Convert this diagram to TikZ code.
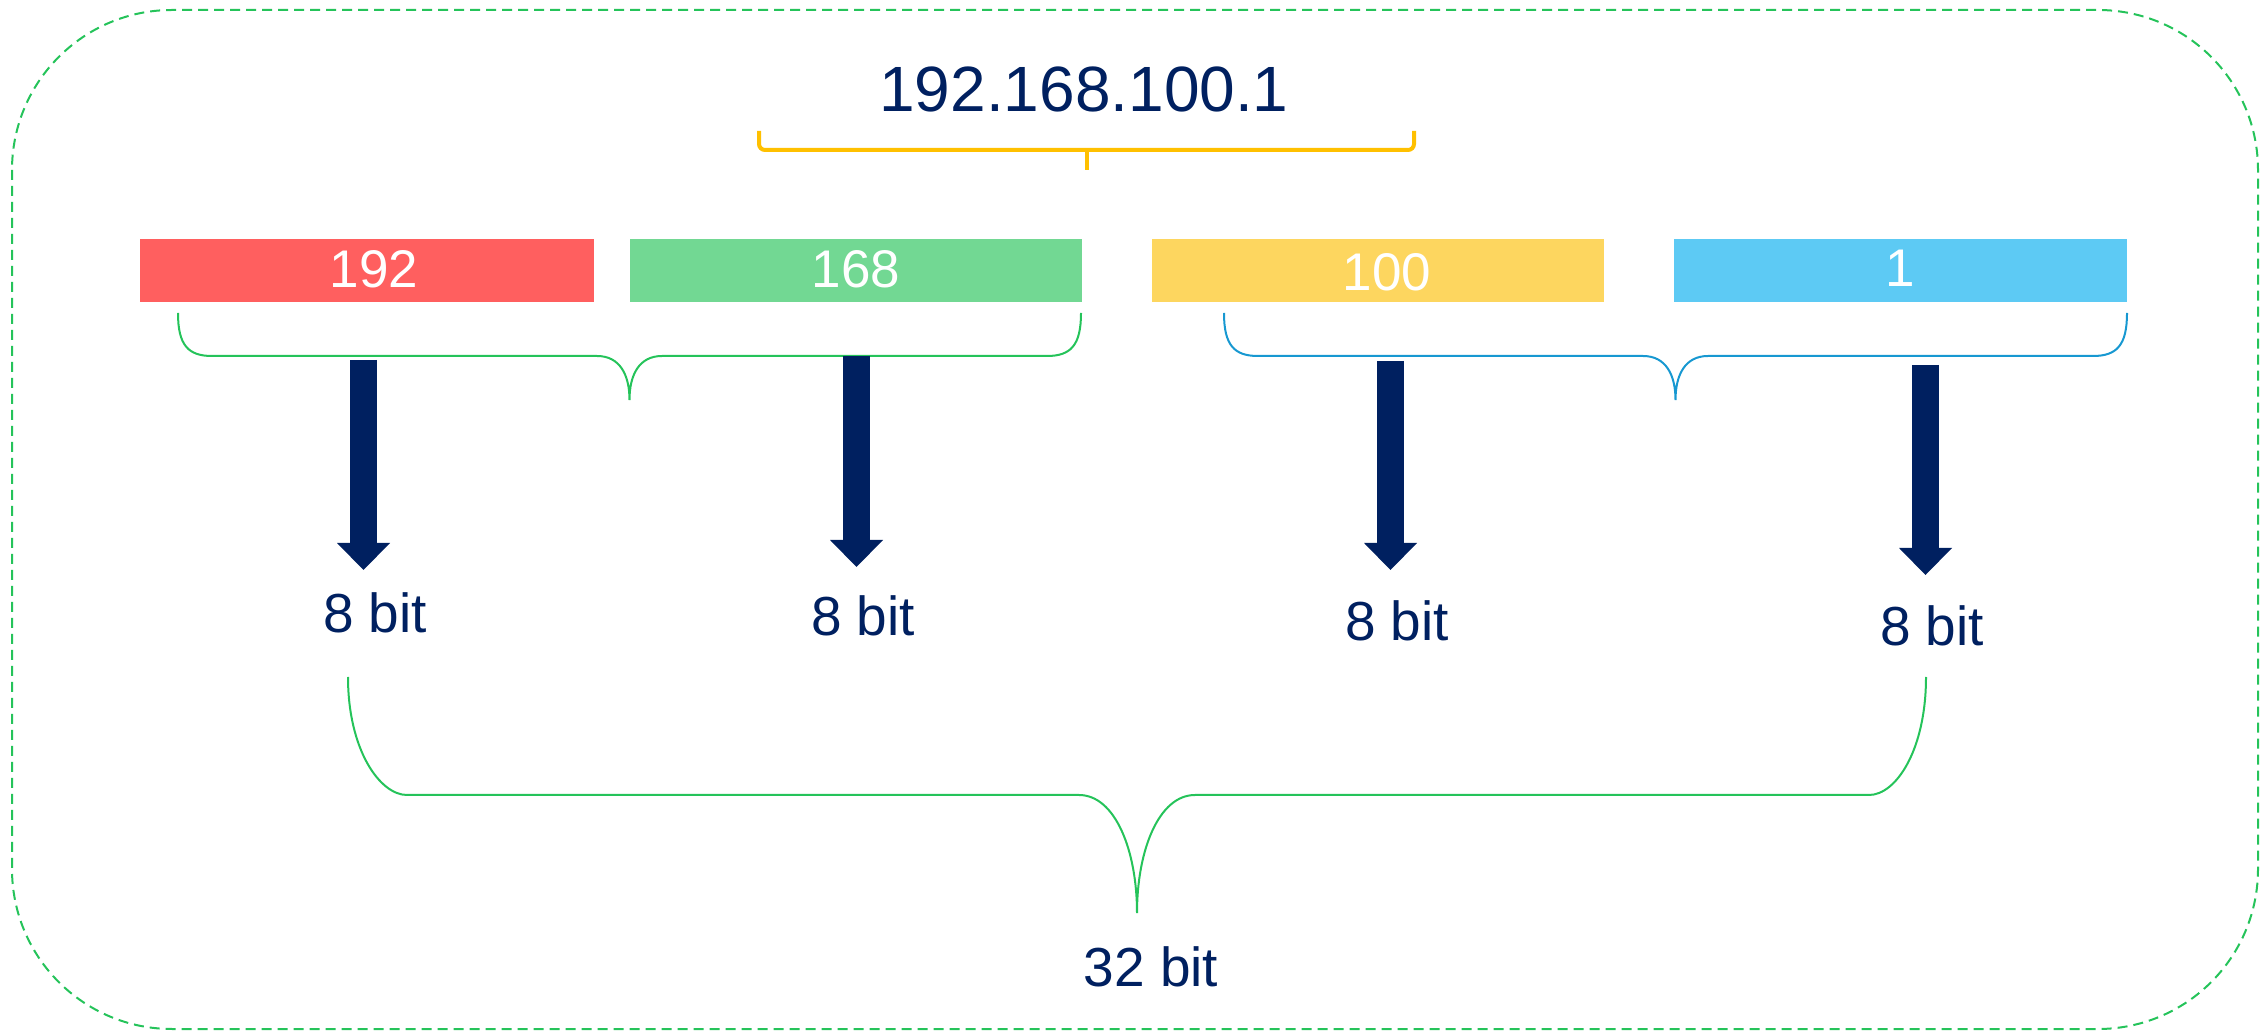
\documentclass[tikz,border=0pt]{standalone}
\usepackage{fontspec}
\setmainfont{Liberation Sans}
\usetikzlibrary{arrows.meta}
\definecolor{navy}{HTML}{002060}
\definecolor{boxred}{HTML}{FF5F5F}
\definecolor{boxgreen}{HTML}{72D893}
\definecolor{boxyellow}{HTML}{FDD65F}
\definecolor{boxblue}{HTML}{5DCAF4}
\definecolor{linegreen}{HTML}{25C35A}
\definecolor{lineblue}{HTML}{1798D1}
\definecolor{braceyellow}{HTML}{FFC000}
\begin{document}
\begin{tikzpicture}[x=0.5pt,y=-0.5pt,
  frame/.style={draw=linegreen, line width=1pt, dash pattern=on 5pt off 3pt, rounded corners=80pt},
  octet/.style={rectangle, inner sep=0pt, minimum height=31.5pt},
  octettext/.style={text=white, font=\fontsize{26.5}{30}\selectfont, inner sep=0pt},
  bitlabel/.style={text=navy, font=\fontsize{27.5}{31}\selectfont, inner sep=0pt},
  brace/.style={line width=1pt},
  bigarrow/.style={draw=navy, line width=13.5pt, -{Triangle[width=26.5pt,length=13.5pt,line width=0pt]}}]
\useasboundingbox (0,0) rectangle (2267,1031);
% frame
\draw[frame] (12,10) rectangle (2258,1029);
% title
\node[text=navy, font=\fontsize{32}{36}\selectfont, inner sep=0pt] (ip) at (1084,89) {192.168.100.1};
\draw[draw=braceyellow, line width=2pt, rounded corners=3pt] (759,131) -- (759,150) -- (1414,150) -- (1414,131);
\draw[draw=braceyellow, line width=2pt] (1086.5,150) -- (1086.5,170);
% octet boxes
\node[octet, fill=boxred, minimum width=227pt] (b1) at (367,271) {};
\node[octet, fill=boxgreen, minimum width=226pt] (b2) at (856,270.5) {};
\node[octet, fill=boxyellow, minimum width=226pt] (b3) at (1378,270.5) {};
\node[octet, fill=boxblue, minimum width=226.5pt] (b4) at (1900.5,270.5) {};
\node[octettext] (t1) at (374,269) {192};
\node[octettext] (t2) at (856,269) {168};
\node[octettext] (t3) at (1387,272) {100};
\node[octettext] (t4) at (1900,268) {1};
% small braces
\draw[brace, draw=linegreen] (178,313) .. controls (178,345) and (188,356) .. (212,356) -- (597,356)
  .. controls (620,356) and (629.5,375) .. (629.5,400)
  .. controls (629.5,375) and (639,356) .. (662,356) -- (1047,356)
  .. controls (1071,356) and (1081,345) .. (1081,313);
\draw[brace, draw=lineblue] (1224,313) .. controls (1224,345) and (1234,356) .. (1258,356) -- (1643,356)
  .. controls (1666,356) and (1675.5,375) .. (1675.5,400)
  .. controls (1675.5,375) and (1685,356) .. (1708,356) -- (2093,356)
  .. controls (2117,356) and (2127,345) .. (2127,313);
% arrows
\coordinate (a1s) at (363.5,360);  \coordinate (a1e) at (363.5,570);
\coordinate (a2s) at (856.5,356);  \coordinate (a2e) at (856.5,567);
\coordinate (a3s) at (1390.5,361); \coordinate (a3e) at (1390.5,570);
\coordinate (a4s) at (1925.5,365); \coordinate (a4e) at (1925.5,575);
\draw[bigarrow] (a1s) -- (a1e);
\draw[bigarrow] (a2s) -- (a2e);
\draw[bigarrow] (a3s) -- (a3e);
\draw[bigarrow] (a4s) -- (a4e);
% bit labels
\node[bitlabel] (e1) at (375,613) {8 bit};
\node[bitlabel] (e2) at (863,616) {8 bit};
\node[bitlabel] (e3) at (1397,621) {8 bit};
\node[bitlabel] (e4) at (1932,626) {8 bit};
% big brace
\draw[brace, draw=linegreen] (348,677) .. controls (348,750) and (380,795) .. (407,795) -- (1079,795)
  .. controls (1115,795) and (1137,850) .. (1137,913)
  .. controls (1137,850) and (1159,795) .. (1195,795) -- (1869,795)
  .. controls (1896,795) and (1926,750) .. (1926,677);
\node[bitlabel] (tot) at (1151,967) {32 bit};
\end{tikzpicture}
\end{document}
